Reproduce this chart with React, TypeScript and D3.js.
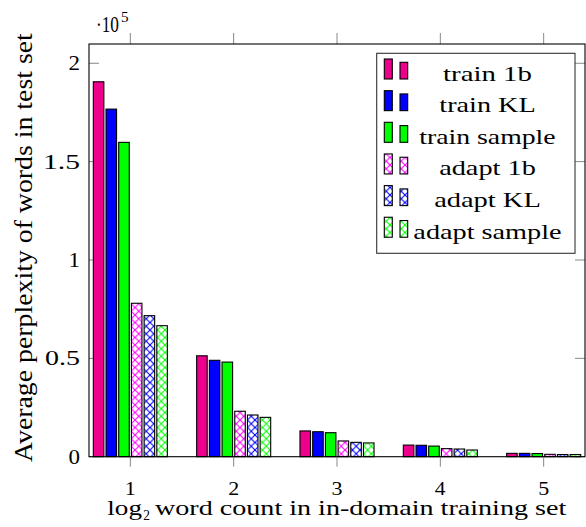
import React, { useLayoutEffect, useRef, useState } from "react";
import * as d3 from "d3";

const categories = [1, 2, 3, 4, 5];
const seriesNames = ["train 1b", "train KL", "train sample", "adapt 1b", "adapt KL", "adapt sample"];
const trainOneB = [1.906, 0.513, 0.131, 0.059, 0.017];
const trainKL = [1.767, 0.49, 0.127, 0.058, 0.017];
const trainSample = [1.598, 0.481, 0.122, 0.054, 0.016];
const adaptOneB = [0.78, 0.231, 0.08, 0.041, 0.012];
const adaptKL = [0.717, 0.212, 0.073, 0.039, 0.011];
const adaptSample = [0.666, 0.2, 0.07, 0.034, 0.011];
const yTicks = [0, 0.5, 1, 1.5, 2];
const yTickLabels = ["0", "0.5", "1", "1.5", "2"];
const xTickLabels = ["1", "2", "3", "4", "5"];
const legendWidths = [89, 96.4, 136.4, 96.7, 106.7, 148.3];
const yTickWidths = [11.5, 35, 11.5, 37, 11.5];

const seriesValues = [trainOneB, trainKL, trainSample, adaptOneB, adaptKL, adaptSample];
const colors = ["#EC008C", "#0000FF", "#00FF00", "#FF00FF", "#0000FF", "#00FF00"];
const hatched = [false, false, false, true, true, true];

const FONT = "'Liberation Serif', 'Times New Roman', Times, serif";

function FitText({ x, y, w, fs, children }: { x: number; y: number; w: number; fs: number; children: string }) {
  const ref = useRef<SVGTextElement>(null);
  const [s, setS] = useState(1);
  useLayoutEffect(() => {
    if (ref.current) {
      const b = ref.current.getBBox();
      if (b.width > 0) setS(w / b.width);
    }
  }, [w, fs, children]);
  return (
    <text ref={ref} x={0} y={0} fontSize={fs} fontFamily={FONT} transform={`translate(${x},${y}) scale(${s},1)`}>
      {children}
    </text>
  );
}

export default function App() {
  const W = 586, H = 527;
  const left = 89, right = 585, top = 44, bottom = 456.7;
  const x = d3.scaleLinear().domain([0.6, 5.4]).range([left, right]);
  const y = d3.scaleLinear().domain([0, 2.098]).range([bottom, top]);
  const band = d3.scaleBand<number>().domain(d3.range(6)).range([-38.1, 38.1]).paddingInner(0.17).paddingOuter(0.085);
  const bw = band.bandwidth();

  const fillFor = (i: number) => (hatched[i] ? `url(#hatch${i})` : colors[i]);

  const legX = 376.7, legY = 53.3, legW = 198.3, legH = 200;
  const rowBottoms = d3.range(6).map((i) => 79 + i * 31.65);
  const legendCenter = 487.5;
  const yLabelLen = 429;

  return (
    <svg width={W} height={H} style={{ position: "absolute", left: 0, top: 0, background: "#fff" }} fontFamily={FONT}>
      <defs>
        {d3.range(6).filter((i) => hatched[i]).map((i) => (
          <pattern key={i} id={`hatch${i}`} patternUnits="userSpaceOnUse" width={7.5} height={7.5}>
            <rect width={7.5} height={7.5} fill="#fff" />
            <path d="M0,0 L7.5,7.5 M0,7.5 L7.5,0" stroke={colors[i]} strokeWidth={1.1} />
          </pattern>
        ))}
      </defs>
      <rect x={0} y={0} width={W} height={H} fill="#fff" />

      {categories.map((c, k) => (
        <g key={"xt" + k} stroke="#888" strokeWidth={1}>
          <line x1={x(c)} x2={x(c)} y1={bottom} y2={bottom + 10} />
          <line x1={x(c)} x2={x(c)} y1={top} y2={top - 11} />
        </g>
      ))}
      {yTicks.map((t, k) => (
        <g key={"yt" + k} stroke="#888" strokeWidth={1}>
          <line x1={left} x2={left + 10} y1={y(t)} y2={y(t)} />
          <line x1={right} x2={right - 10} y1={y(t)} y2={y(t)} />
        </g>
      ))}

      {seriesValues.map((vals, i) =>
        vals.map((v, k) => (
          <rect
            key={`b${i}-${k}`}
            x={x(categories[k]) + (band(i) as number)}
            y={y(v)}
            width={bw}
            height={y(0) - y(v)}
            fill={fillFor(i)}
            stroke="#000"
            strokeWidth={1.1}
          />
        ))
      )}

      <rect x={left} y={top} width={right - left} height={bottom - top} fill="none" stroke="#000" strokeWidth={1.1} />

      {yTicks.map((t, k) => (
        <FitText key={"yl" + k} x={80 - yTickWidths[k]} y={y(t) + 7} w={yTickWidths[k]} fs={20.5}>
          {yTickLabels[k]}
        </FitText>
      ))}
      {categories.map((c, k) => (
        <FitText key={"xl" + k} x={x(c) - 5.5} y={494.5} w={11} fs={19.5}>
          {xTickLabels[k]}
        </FitText>
      ))}

      <FitText x={96} y={32} w={23} fs={23}>·10</FitText>
      <FitText x={121} y={22} w={7.6} fs={15}>5</FitText>

      <FitText x={107.3} y={515} w={35.3} fs={21}>log</FitText>
      <FitText x={143.3} y={520} w={6.7} fs={15}>2</FitText>
      <FitText x={155} y={515} w={411.7} fs={21}>word count in in-domain training set</FitText>

      <g transform={`translate(32,${247.5 + yLabelLen / 2}) rotate(-90)`}>
        <FitText x={0} y={0} w={yLabelLen} fs={25}>Average perplexity of words in test set</FitText>
      </g>

      <rect x={legX} y={legY} width={legW} height={legH} fill="#fff" stroke="#333" strokeWidth={1.1} />
      {seriesNames.map((name, i) => (
        <g key={"lg" + i}>
          <rect x={384.3} y={rowBottoms[i] - 20} width={8} height={20} fill={fillFor(i)} stroke="#000" strokeWidth={1.1} />
          <rect x={400} y={rowBottoms[i] - 16.7} width={7.7} height={16.7} fill={fillFor(i)} stroke="#000" strokeWidth={1.1} />
          <FitText x={legendCenter - legendWidths[i] / 2} y={rowBottoms[i] + 1.5} w={legendWidths[i]} fs={22}>
            {name}
          </FitText>
        </g>
      ))}
    </svg>
  );
}
